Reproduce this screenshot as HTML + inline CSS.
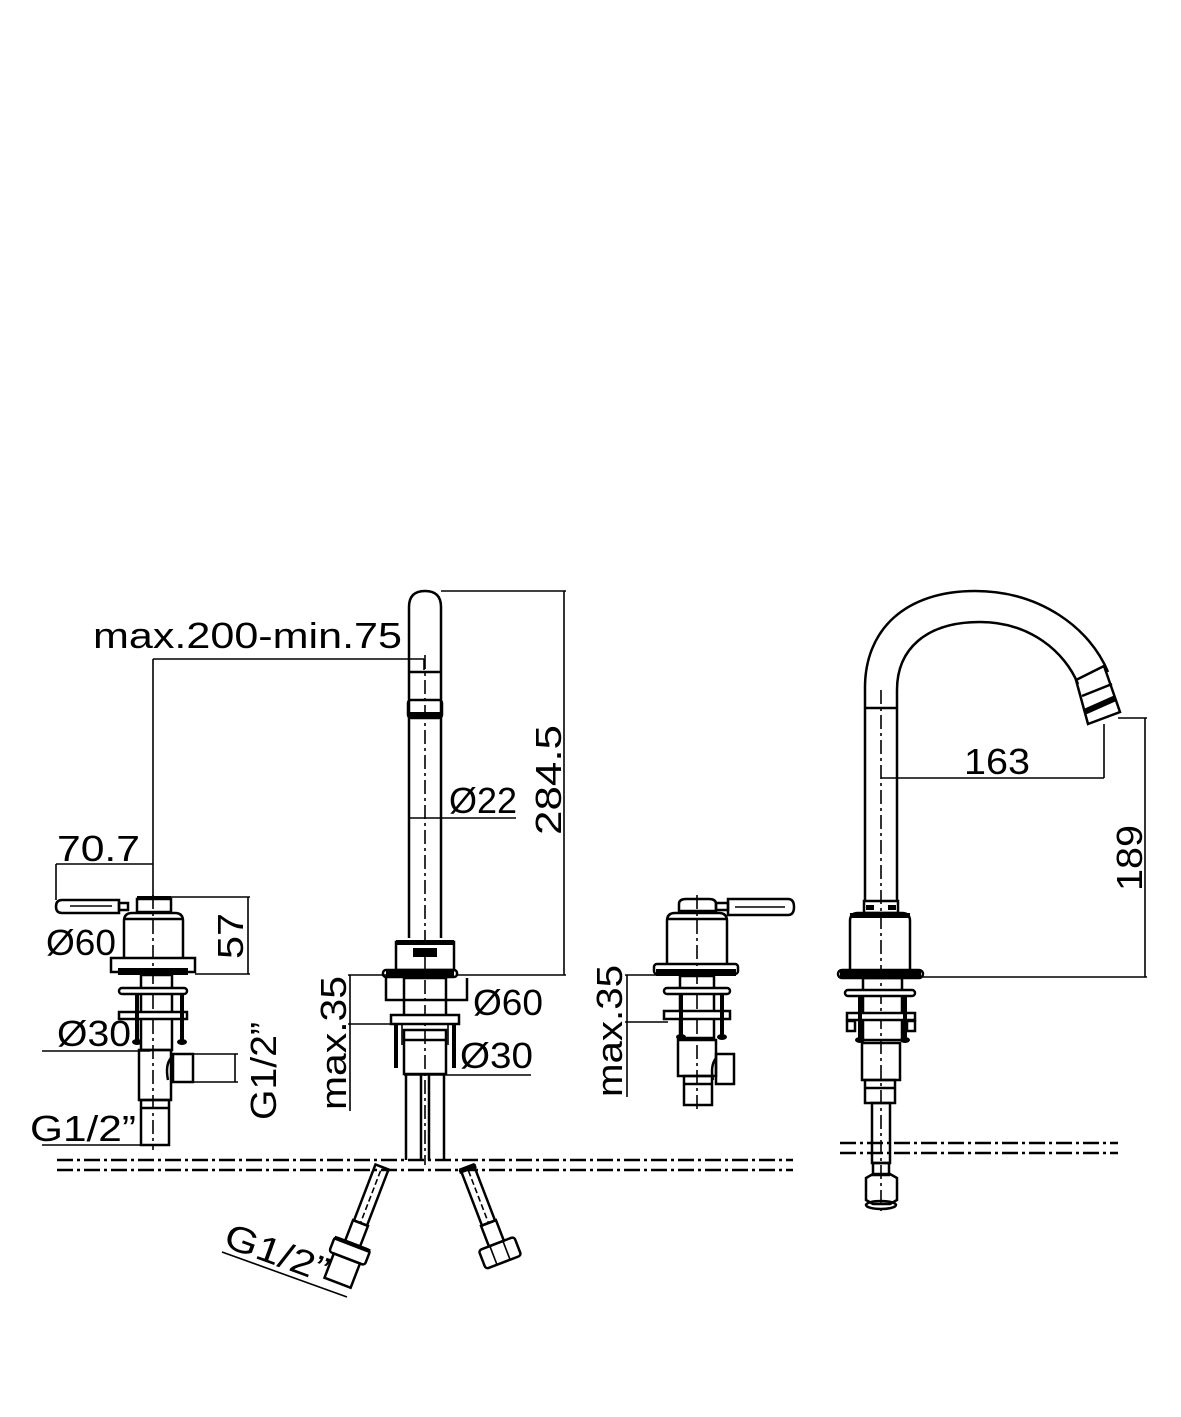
<!DOCTYPE html>
<html><head><meta charset="utf-8"><style>
html,body{margin:0;padding:0;background:#fff;}
svg{display:block;}
text{font-family:"Liberation Sans",sans-serif;font-size:36px;fill:#000;}
.s{fill:none;stroke:#000;stroke-width:2.5;}
.t{fill:none;stroke:#000;stroke-width:1.6;}
.w{fill:#fff;stroke:#000;stroke-width:2.5;}
.d{fill:none;stroke:#000;stroke-width:1.6;stroke-dasharray:14 4 3 4;}
.f{fill:none;stroke:#000;stroke-width:2.5;stroke-dasharray:16 4 3 4;}
.k{fill:#000;}
</style></head><body>
<svg width="1181" height="1417" viewBox="0 0 1181 1417" xmlns="http://www.w3.org/2000/svg">

<!-- floor lines -->
<line class="f" x1="57" y1="1160" x2="793" y2="1160"/>
<line class="f" x1="57" y1="1170" x2="793" y2="1170"/>
<line class="f" x1="840" y1="1143" x2="1118" y2="1143"/>
<line class="f" x1="840" y1="1153" x2="1118" y2="1153"/>

<!-- ============ LEFT VALVE ============ -->
<line class="d" x1="153" y1="895" x2="153" y2="1150"/>
<!-- lever -->
<path class="s" d="M62,900 H119 V913 H62 Q56,913 56,906.5 Q56,900 62,900 Z"/>
<line class="t" x1="70" y1="906" x2="112" y2="906"/>
<rect class="s" x="119" y="903" width="9" height="7"/>
<!-- cap -->
<rect class="s" x="137" y="899" width="34" height="13"/>
<line class="s" x1="137" y1="898" x2="171" y2="898" style="stroke-width:4"/>
<!-- body -->
<path class="s" d="M124,958 V921 Q124,913 132,913 H175 Q183,913 183,921 V958"/>
<line class="s" x1="124" y1="919" x2="183" y2="919"/>
<!-- flange -->
<rect class="s" x="111" y="958" width="84" height="14"/>
<rect class="k" x="118" y="968" width="70" height="7"/>
<!-- shank -->
<rect class="s" x="141" y="975" width="31" height="75"/>
<rect class="w" x="119" y="988" width="68" height="6" rx="3"/>
<rect class="w" x="119" y="1012" width="68" height="7"/>
<line class="s" x1="137" y1="994" x2="137" y2="1040" style="stroke-width:4"/>
<line class="s" x1="182" y1="994" x2="182" y2="1040" style="stroke-width:4"/>
<ellipse class="k" cx="137" cy="1042" rx="5" ry="3"/>
<ellipse class="k" cx="182" cy="1042" rx="5" ry="3"/>
<rect class="s" x="139" y="1050" width="32" height="50"/>
<rect class="s" x="141" y="1100" width="28" height="45"/>
<line class="s" x1="141" y1="1108" x2="169" y2="1108"/>
<!-- side outlet -->
<path class="s" d="M171,1058 Q165,1065 168,1080"/>
<rect class="s" x="173" y="1054" width="20" height="28"/>
<line class="t" x1="193" y1="1054" x2="238" y2="1054"/>
<line class="t" x1="193" y1="1082" x2="238" y2="1082"/>
<line class="t" x1="235" y1="1054" x2="235" y2="1082"/>
<!-- dims -->
<line class="t" x1="153" y1="659" x2="424" y2="659"/>
<line class="t" x1="424" y1="659" x2="424" y2="670"/>
<line class="t" x1="153" y1="659" x2="153" y2="898"/>
<text x="93" y="648" textLength="309" lengthAdjust="spacingAndGlyphs">max.200-min.75</text>
<line class="t" x1="56" y1="864" x2="153" y2="864"/>
<line class="t" x1="56" y1="864" x2="56" y2="900"/>
<text x="57" y="861" textLength="83" lengthAdjust="spacingAndGlyphs">70.7</text>
<line class="t" x1="171" y1="897" x2="250" y2="897"/>
<line class="t" x1="195" y1="974" x2="250" y2="974"/>
<line class="t" x1="248" y1="897" x2="248" y2="974"/>
<text transform="translate(243,936) rotate(-90)" text-anchor="middle" textLength="46" lengthAdjust="spacingAndGlyphs">57</text>
<text x="46" y="955" textLength="70" lengthAdjust="spacingAndGlyphs">Ø60</text>
<text x="57" y="1046" textLength="74" lengthAdjust="spacingAndGlyphs">Ø30</text>
<line class="t" x1="42" y1="1051" x2="150" y2="1051"/>
<text transform="translate(276,1071) rotate(-90)" text-anchor="middle" textLength="98" lengthAdjust="spacingAndGlyphs">G1/2”</text>
<text x="30" y="1141" textLength="106" lengthAdjust="spacingAndGlyphs">G1/2”</text>
<line class="t" x1="42" y1="1145" x2="170" y2="1145"/>
<line class="t" x1="141" y1="1100" x2="141" y2="1145"/>

<!-- ============ CENTER SPOUT ============ -->
<line class="d" x1="425" y1="655" x2="425" y2="1165"/>
<path class="s" d="M409,938 V607 Q409,591 425,591 Q441,591 441,607 V938"/>
<line class="s" x1="409" y1="672" x2="441" y2="672"/>
<rect class="s" x="408" y="700" width="34" height="18" rx="3"/>
<rect class="k" x="408" y="712" width="34" height="7"/>
<!-- base -->
<rect class="s" x="396" y="942" width="58" height="28"/>
<rect class="k" x="396" y="940" width="58" height="5"/>
<rect class="k" x="413" y="948" width="24" height="9"/>
<rect class="s" x="383" y="970" width="74" height="7" rx="3"/>
<rect class="k" x="386" y="971" width="68" height="6"/>
<path class="s" d="M386,978 V1000 H467 V978"/>
<rect class="s" x="404" y="978" width="42" height="40"/>
<rect class="w" x="391" y="1015" width="68" height="9"/>
<line class="s" x1="396" y1="1024" x2="396" y2="1068" style="stroke-width:4"/>
<line class="s" x1="454" y1="1024" x2="454" y2="1068" style="stroke-width:4"/>
<line class="t" x1="402" y1="1024" x2="402" y2="1045"/>
<line class="t" x1="448" y1="1024" x2="448" y2="1045"/>
<rect class="s" x="404" y="1030" width="42" height="44"/>
<line class="s" x1="404" y1="1040" x2="446" y2="1040"/>
<line class="s" x1="406" y1="1074" x2="406" y2="1160"/>
<line class="s" x1="421" y1="1074" x2="421" y2="1160"/>
<line class="s" x1="429" y1="1074" x2="429" y2="1160"/>
<line class="s" x1="444" y1="1074" x2="444" y2="1160"/>
<!-- dims -->
<line class="t" x1="441" y1="591" x2="566" y2="591"/>
<line class="t" x1="564" y1="591" x2="564" y2="975"/>
<line class="t" x1="457" y1="975" x2="566" y2="975"/>
<text transform="translate(561,780) rotate(-90)" text-anchor="middle" textLength="110" lengthAdjust="spacingAndGlyphs">284.5</text>
<line class="t" x1="409" y1="818" x2="516" y2="818"/>
<text x="449" y="813" textLength="68" lengthAdjust="spacingAndGlyphs">Ø22</text>
<text x="473" y="1015" textLength="70" lengthAdjust="spacingAndGlyphs">Ø60</text>
<text x="460" y="1068" textLength="73" lengthAdjust="spacingAndGlyphs">Ø30</text>
<line class="t" x1="404" y1="1075" x2="531" y2="1075"/>
<line class="t" x1="348" y1="975" x2="386" y2="975"/>
<line class="t" x1="348" y1="1024" x2="391" y2="1024"/>
<line class="t" x1="350" y1="975" x2="350" y2="1111"/>
<text transform="translate(346,1043) rotate(-90)" text-anchor="middle" textLength="134" lengthAdjust="spacingAndGlyphs">max.35</text>

<!-- hoses -->
<g transform="translate(382,1167) rotate(21)">
  <rect class="s" x="-7" y="0" width="14" height="60"/>
  <line class="t" x1="0" y1="4" x2="0" y2="60" style="stroke-dasharray:6 3"/>
  <rect class="s" x="-8" y="60" width="16" height="22"/>
  <rect class="s" x="-19" y="82" width="38" height="16" rx="3"/>
  <rect class="k" x="-19" y="81" width="38" height="4"/>
  <rect class="s" x="-14" y="98" width="28" height="26"/>
</g>
<g transform="translate(467,1167) rotate(-21)">
  <rect class="s" x="-7" y="0" width="14" height="60"/>
  <line class="t" x1="0" y1="4" x2="0" y2="60" style="stroke-dasharray:6 3"/>
  <rect class="k" x="-9" y="0" width="18" height="4"/>
  <rect class="s" x="-8" y="60" width="16" height="22"/>
  <rect class="s" x="-19" y="82" width="38" height="20" rx="3"/>
  <line class="t" x1="-7" y1="82" x2="-7" y2="102"/>
  <line class="t" x1="7" y1="82" x2="7" y2="102"/>
</g>
<line class="t" x1="222" y1="1252" x2="347" y2="1297"/>
<text transform="translate(222,1246) rotate(20)" textLength="108" lengthAdjust="spacingAndGlyphs">G1/2”</text>

<!-- ============ MIDDLE-RIGHT VALVE ============ -->
<line class="d" x1="697" y1="895" x2="697" y2="1110"/>
<path class="s" d="M728,899 H788 Q794,899 794,907 Q794,915 788,915 H728 Z"/>
<line class="t" x1="735" y1="907" x2="785" y2="907"/>
<rect class="s" x="716" y="903" width="12" height="7"/>
<path class="s" d="M679,911 V904 Q679,899 686,899 H709 Q716,899 716,904 V911 Z"/>
<path class="s" d="M667,964 V921 Q667,913 675,913 H719 Q727,913 727,921 V964"/>
<line class="s" x1="667" y1="919" x2="727" y2="919"/>
<rect class="s" x="654" y="964" width="84" height="10" rx="3"/>
<rect class="k" x="656" y="969" width="80" height="7"/>
<rect class="s" x="680" y="976" width="34" height="62"/>
<rect class="w" x="664" y="988" width="66" height="6" rx="3"/>
<rect class="w" x="664" y="1011" width="66" height="8"/>
<line class="s" x1="681" y1="994" x2="681" y2="1035" style="stroke-width:4"/>
<line class="s" x1="722" y1="994" x2="722" y2="1035" style="stroke-width:4"/>
<ellipse class="k" cx="681" cy="1037" rx="5" ry="3"/>
<ellipse class="k" cx="722" cy="1037" rx="5" ry="3"/>
<rect class="s" x="678" y="1040" width="38" height="36"/>
<path class="s" d="M716,1058 Q710,1066 713,1080"/>
<rect class="s" x="716" y="1054" width="18" height="30"/>
<rect class="s" x="684" y="1076" width="28" height="29"/>
<line class="s" x1="684" y1="1084" x2="712" y2="1084"/>
<line class="t" x1="625" y1="975" x2="656" y2="975"/>
<line class="t" x1="625" y1="1022" x2="668" y2="1022"/>
<line class="t" x1="627" y1="975" x2="627" y2="1097"/>
<text transform="translate(622,1031) rotate(-90)" text-anchor="middle" textLength="132" lengthAdjust="spacingAndGlyphs">max.35</text>

<!-- ============ RIGHT FAUCET ============ -->
<line class="d" x1="881" y1="690" x2="881" y2="1215"/>
<path class="s" d="M865,900 V690 C864,630 905,591 975,591 C1040,591 1090,628 1108,672"/>
<path class="s" d="M897,900 V690 C897,650 925,622 980,622 C1030,622 1065,652 1078,684"/>
<line class="s" x1="865" y1="708" x2="897" y2="708"/>
<polygon class="s" points="1076,680 1104,666 1120,712 1088,724"/>
<line class="s" x1="1082" y1="696" x2="1112" y2="684"/>
<rect class="k" x="1084" y="702" width="32" height="6" transform="rotate(-24 1100 705)"/>
<!-- base -->
<rect class="s" x="864" y="901" width="34" height="12"/>
<rect class="k" x="866" y="905" width="8" height="5"/>
<rect class="k" x="888" y="905" width="8" height="5"/>
<path class="s" d="M850,970 V921 Q850,913 858,913 H902 Q910,913 910,921 V970"/>
<rect class="k" x="850" y="913" width="60" height="5"/>
<rect class="s" x="838" y="970" width="85" height="8" rx="4"/>
<rect class="k" x="840" y="971" width="81" height="7"/>
<rect class="s" x="863" y="978" width="39" height="62"/>
<rect class="w" x="845" y="990" width="70" height="6" rx="3"/>
<rect class="w" x="847" y="1013" width="68" height="7"/>
<rect class="s" x="847" y="1021" width="8" height="10"/>
<rect class="s" x="907" y="1021" width="8" height="10"/>
<line class="s" x1="860" y1="996" x2="860" y2="1038" style="stroke-width:4"/>
<line class="s" x1="905" y1="996" x2="905" y2="1038" style="stroke-width:4"/>
<ellipse class="k" cx="860" cy="1040" rx="5" ry="3"/>
<ellipse class="k" cx="905" cy="1040" rx="5" ry="3"/>
<rect class="s" x="862" y="1043" width="38" height="37"/>
<rect class="s" x="865" y="1080" width="30" height="23"/>
<line class="s" x1="865" y1="1088" x2="895" y2="1088"/>
<rect class="s" x="872" y="1103" width="18" height="60"/>
<rect class="s" x="873" y="1163" width="16" height="12"/>
<path class="s" d="M866,1178 L873,1174 H890 L897,1178 V1200 L890,1204 H873 L866,1200 Z"/>
<ellipse class="s" cx="881" cy="1205" rx="15" ry="4"/>
<!-- dims -->
<line class="t" x1="881" y1="778" x2="1104" y2="778"/>
<line class="t" x1="1104" y1="724" x2="1104" y2="778"/>
<text x="964" y="774" textLength="66" lengthAdjust="spacingAndGlyphs">163</text>
<line class="t" x1="1118" y1="718" x2="1147" y2="718"/>
<line class="t" x1="1145" y1="718" x2="1145" y2="977"/>
<line class="t" x1="923" y1="977" x2="1147" y2="977"/>
<text transform="translate(1142,858) rotate(-90)" text-anchor="middle" textLength="66" lengthAdjust="spacingAndGlyphs">189</text>
</svg>
</body></html>
